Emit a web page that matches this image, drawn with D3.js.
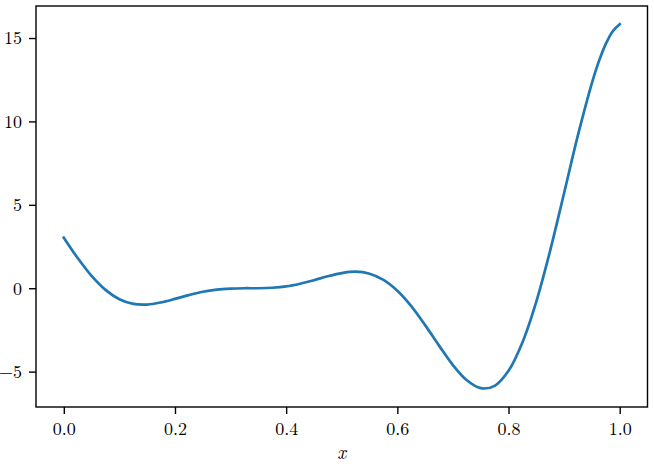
<!DOCTYPE html>
<html>
<head>
<meta charset="utf-8">
<script src="https://cdn.jsdelivr.net/npm/d3@7"></script>
<style>
  body { margin: 0; background: #fff; }
  text { font-family: "Latin Modern Roman", "Liberation Serif", serif; }
</style>
</head>
<body>
<script>
// values
const xs = [0, 0.025, 0.05, 0.075, 0.1, 0.125, 0.15, 0.175, 0.2, 0.225,
  0.25, 0.275, 0.3, 0.325, 0.35, 0.375, 0.4, 0.425, 0.45, 0.475,
  0.5, 0.525, 0.55, 0.575, 0.6, 0.625, 0.65, 0.675, 0.7, 0.725,
  0.75, 0.775, 0.8, 0.825, 0.85, 0.875, 0.9, 0.925, 0.95, 0.9625, 0.975, 0.9875, 1.0];
const ys = [3.03, 1.81, 0.74, -0.10, -0.66, -0.94, -0.98, -0.85, -0.64, -0.41,
  -0.21, -0.08, -0.02, 0.00, 0.00, 0.03, 0.11, 0.27, 0.48, 0.72,
  0.91, 0.99, 0.87, 0.50, -0.15, -1.07, -2.21, -3.44, -4.61, -5.52,
  -5.99, -5.85, -4.95, -3.25, -0.80, 2.27, 5.71, 9.19, 12.30, 13.60, 14.65, 15.41, 15.83];
const xTicks = [0, 0.2, 0.4, 0.6, 0.8, 1.0];
const yTicks = [-5, 0, 5, 10, 15];

const W = 654, H = 464;
const mL = 36, mR = 647.5, mT = 6, mB = 407;

const svg = d3.select("body").append("svg")
  .attr("width", W)
  .attr("height", H);

const x = d3.scaleLinear().domain([-0.05, 1.05]).range([mL, mR]);
const y = d3.scaleLinear().domain([-7.12, 16.92]).range([mB, mT]);

const data = xs.map((d, i) => [d, ys[i]]);

svg.append("path")
  .datum(data)
  .attr("fill", "none")
  .attr("stroke", "#1f77b4")
  .attr("stroke-width", 2.7)
  .attr("stroke-linecap", "square")
  .attr("d", d3.line()
    .x(d => x(d[0]))
    .y(d => y(d[1]))
    .curve(d3.curveCatmullRom.alpha(0.5)));

const fmtY = d => (d < 0 ? "\u2212" + Math.abs(d) : "" + d);

const xAxis = svg.append("g")
  .attr("transform", `translate(0,${mB})`)
  .call(d3.axisBottom(x).tickValues(xTicks).tickFormat(d3.format(".1f")).tickSize(7).tickPadding(8));
const yAxis = svg.append("g")
  .attr("transform", `translate(${mL},0)`)
  .call(d3.axisLeft(y).tickValues(yTicks).tickFormat(fmtY).tickSize(7).tickPadding(7));

[xAxis, yAxis].forEach(g => {
  g.select(".domain").remove();
  g.selectAll(".tick line").attr("stroke", "#000").attr("stroke-width", 1.4);
  g.selectAll(".tick text").attr("fill", "#000").style("font-size", "18px");
});

// frame
svg.append("rect")
  .attr("x", mL)
  .attr("y", mT)
  .attr("width", mR - mL)
  .attr("height", mB - mT)
  .attr("fill", "none")
  .attr("stroke", "#000")
  .attr("stroke-width", 1.4);

svg.append("text")
  .attr("x", (mL + mR) / 2)
  .attr("y", 459)
  .attr("text-anchor", "middle")
  .style("font-size", "19px")
  .style("font-style", "italic")
  .text("x");
</script>
</body>
</html>
